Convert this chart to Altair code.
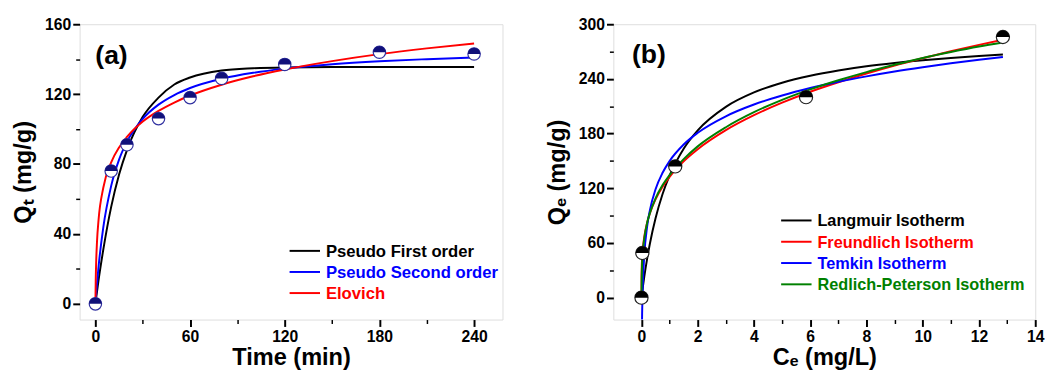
import altair as alt
import pandas as pd

FONT = "Liberation Sans"

# ---------------- Panel (a): kinetics ----------------
t_exp = [0, 10, 20, 40, 60, 80, 120, 180, 240]
q_exp = [0, 76, 91, 106, 118, 129, 137, 144, 143]

t_fit = [0, 0.2, 0.5, 1, 2, 5, 10, 15, 20, 30, 40, 50, 60, 80, 100, 120, 150, 180, 210, 240]
pfo = [0, 1.4, 3.5, 6.9, 13.5, 31, 55.5, 74, 88, 107, 118, 125.5, 129.5, 133.5, 134.8, 135.3, 135.5, 135.5, 135.5, 135.5]
pso = [0, 2.4, 6.0, 11.5, 21.3, 43.7, 67.5, 82.5, 92.8, 105.9, 114, 119.5, 123.5, 128.8, 132.2, 134.6, 137.1, 138.8, 140, 141]
elo = [0, 13, 24.2, 35.3, 48, 66.4, 81, 89.5, 95.5, 104.3, 110.4, 115.2, 119.2, 125.4, 130.2, 134.1, 138.9, 142.9, 146.2, 149]

series_a = ["Pseudo First order", "Pseudo Second order", "Elovich"]
colors_a = ["#000000", "#0000ff", "#ff0000"]

xa_major = [0, 60, 120, 180, 240]
xa_minor = [30, 90, 150, 210]
ya_major = [0, 40, 80, 120, 160]
ya_minor = [20, 60, 100, 140]

# ---------------- Panel (b): isotherms ----------------
c_exp = [0, 0.03, 1.2, 5.85, 12.85]
qe_exp = [0, 49, 144, 220, 286]

c_fit = [0, 0.002, 0.01, 0.02, 0.03, 0.05, 0.1, 0.2, 0.3, 0.5, 0.75, 1, 1.5, 2, 3, 4, 5, 6, 7, 8, 9, 10, 11, 12, 12.85]
langmuir = [0, 0.5, 2.5, 4.9, 7.3, 12, 23, 42.5, 59.4, 87.1, 113.7, 134.1, 163.5, 183.6, 209.4, 225.2, 235.8, 243.5, 249.3, 253.9, 257.5, 260.5, 263.0, 265.2, 266.7]
freundlich = [0, 20.9, 33.8, 41.5, 46.8, 54.5, 66.9, 82.2, 92.7, 107.9, 121.7, 132.6, 149.6, 162.9, 183.8, 200.2, 213.9, 225.9, 236.3, 245.9, 254.7, 262.7, 270.3, 277.4, 283]
temkin = [None, None, -81, -25, -6.8, 16, 47, 78, 96.1, 118.9, 137, 149.9, 168, 180.9, 199, 211.9, 221.8, 230, 236.9, 242.8, 248.1, 252.8, 257.1, 261, 264]
redlich = [0, 8, 25, 36, 43, 52, 65, 82, 93, 109, 123.5, 134.5, 152, 166, 187, 203.5, 217, 228.5, 238.5, 247.5, 255.5, 263, 269.5, 275.5, 280]

series_b = ["Langmuir Isotherm", "Freundlich Isotherm", "Temkin Isotherm", "Redlich-Peterson Isotherm"]
colors_b = ["#000000", "#ff0000", "#0000ff", "#008000"]

xb_major = [0, 2, 4, 6, 8, 10, 12, 14]
xb_minor = [1, 3, 5, 7, 9, 11, 13]
yb_major = [0, 60, 120, 180, 240, 300]
yb_minor = [30, 90, 150, 210, 270]

TOP_HALF = "M-1,0A1,1,0,0,1,1,0Z"


def major_axis(values, title, title_pad, orient):
    return alt.Axis(values=values, title=title, tickSize=7, tickWidth=2,
                    labelFont=FONT, labelFontSize=16, labelFontWeight="bold",
                    labelPadding=2, titleFont=FONT, titleFontSize=24,
                    titleFontWeight="bold", titlePadding=title_pad, domain=False,
                    grid=False, tickColor="black", labelColor="black",
                    titleColor="black", labelFlush=False, orient=orient)


def minor_axis(values, orient):
    return alt.Axis(values=values, title=None, labels=False, tickSize=4, tickWidth=1.5,
                    domain=False, grid=False, tickColor="black", orient=orient)


def legend_layers(names, cols, x0, y0, dy, font_size):
    one = pd.DataFrame({"k": [0]})
    out = []
    for i, (n, c) in enumerate(zip(names, cols)):
        yy = y0 + i * dy
        out.append(alt.Chart(one).mark_rule(color=c, strokeWidth=2).encode(
            x=alt.value(x0), x2=alt.value(x0 + 31), y=alt.value(yy)))
        out.append(alt.Chart(one).mark_text(
            align="left", baseline="middle", font=FONT, fontSize=font_size,
            fontWeight="bold", color=c, text=n).encode(
            x=alt.value(x0 + 37), y=alt.value(yy + 1)))
    return out


def panel(xs, ys, xexp, yexp, fits, names, cols, xmaj, xmin, ymaj, ymin,
          xtitle, ytitle, tag, w, h, leg, pt_size, top_color, bottom_stroke,
          tag_xy):
    xsc = alt.Scale(domain=xs, nice=False, zero=False)
    ysc = alt.Scale(domain=ys, nice=False, zero=False)

    fit_df = pd.DataFrame(
        [{"x": x, "y": y, "series": n}
         for n, vals in zip(names, fits[1])
         for x, y in zip(fits[0], vals) if y is not None]
    )
    exp_df = pd.DataFrame({"x": xexp, "y": yexp})

    lines = alt.Chart(fit_df).mark_line(strokeWidth=2, clip=True, interpolate="monotone").encode(
        x=alt.X("x:Q", scale=xsc, axis=major_axis(xmaj, xtitle, 2, "bottom")),
        y=alt.Y("y:Q", scale=ysc, axis=major_axis(ymaj, ytitle, 9, "left")),
        color=alt.Color("series:N", scale=alt.Scale(domain=names, range=cols), legend=None),
        detail="series:N",
    )

    minor = alt.Chart(exp_df).mark_point(opacity=0).encode(
        x=alt.X("x:Q", scale=xsc, axis=minor_axis(xmin, "bottom")),
        y=alt.Y("y:Q", scale=ysc, axis=minor_axis(ymin, "left")),
    )

    circ = alt.Chart(exp_df).mark_point(shape="circle", filled=True, size=pt_size,
                                        fill="white", stroke=bottom_stroke,
                                        strokeWidth=1.2, opacity=1).encode(
        x=alt.X("x:Q", scale=xsc, axis=None), y=alt.Y("y:Q", scale=ysc, axis=None))
    half = alt.Chart(exp_df).mark_point(shape=TOP_HALF, filled=True, size=pt_size,
                                        fill=top_color, strokeWidth=0, opacity=1).encode(
        x=alt.X("x:Q", scale=xsc, axis=None), y=alt.Y("y:Q", scale=ysc, axis=None))

    label = alt.Chart(pd.DataFrame({"t": [tag]})).mark_text(
        align="left", baseline="middle", font=FONT, fontSize=27, fontWeight="bold",
        color="black").encode(x=alt.value(tag_xy[0]), y=alt.value(tag_xy[1]), text="t:N")

    layers = [lines, minor, circ, half, label] + legend_layers(names, cols, *leg)
    return alt.layer(*layers).resolve_axis(
        x="independent", y="independent").properties(width=w, height=h)


pa = panel([-10, 258], [-9, 160], t_exp, q_exp, (t_fit, [pfo, pso, elo]),
           series_a, colors_a, xa_major, xa_minor, ya_major, ya_minor,
           "Time (min)", "Qₜ (mg/g)", "(a)", 431, 301, (214, 231, 21.5, 17), 160,
           "#10107a", "#3030a0", (16, 33))
pb = panel([-1, 14], [-24, 300], c_exp, qe_exp, (c_fit, [langmuir, freundlich, temkin, redlich]),
           series_b, colors_b, xb_major, xb_minor, yb_major, yb_minor,
           "Cₑ (mg/L)", "Qₑ (mg/g)", "(b)", 430, 301, (171, 200, 21.7, 16.6), 180,
           "#000000", "#222222", (19, 31))

chart = alt.hconcat(pa, pb, spacing=42).resolve_scale(color="independent").configure_view(
    stroke="black", strokeWidth=2).configure(
    padding={"left": 3, "top": 4, "right": 3, "bottom": 3}, background="white")

chart.save("out.html", embed_options={"renderer": "svg", "actions": False})
